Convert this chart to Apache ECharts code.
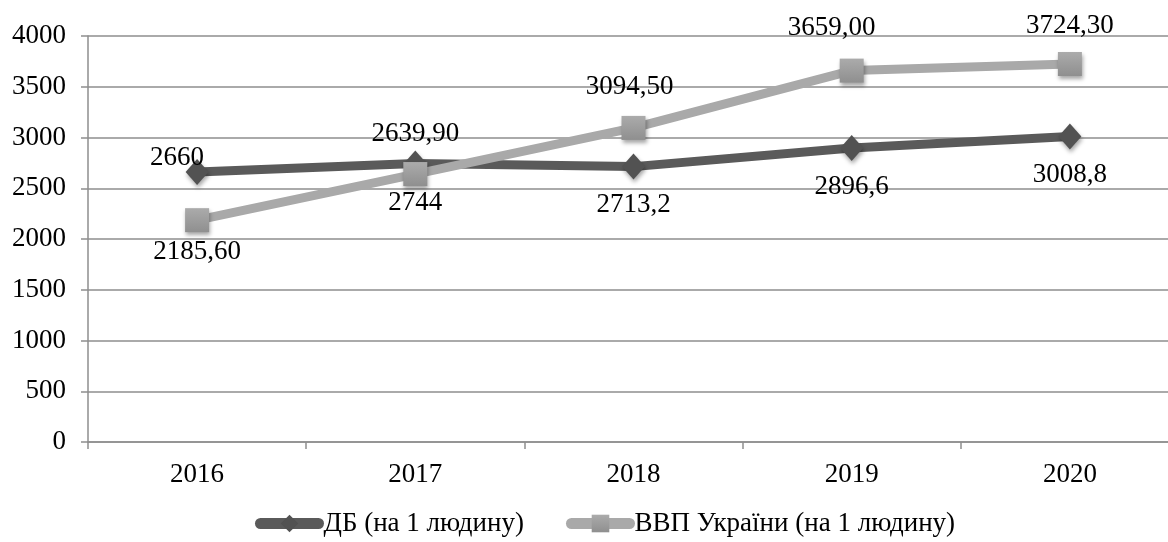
<!DOCTYPE html>
<html>
<head>
<meta charset="utf-8">
<script src="https://cdn.jsdelivr.net/npm/echarts@6/dist/echarts.min.js"></script>
<style>
  html, body { margin: 0; padding: 0; background: #fff; overflow: hidden; }
  /* plot runs slightly past the right edge of the page */
  #chart { width: 1179px; height: 542px; }
</style>
</head>
<body>
<div id="chart"></div>
<script>
// Years on the category axis
const years = ['2016', '2017', '2018', '2019', '2020'];
// Державний бюджет на 1 людину
const dbValues = [2660, 2744, 2713.2, 2896.6, 3008.8];
// ВВП України на 1 людину
const gdpValues = [2185.6, 2639.9, 3094.5, 3659.0, 3724.3];
// Value axis ticks
const yMin = 0, yMax = 4000, yStep = 500;

const seriesNames = ['ДБ (на 1 людину)', 'ВВП України (на 1 людину)'];

// label placement relative to each marker centre
const dbLabelShift = [[-20, -14], [0, 39], [0, 38], [0, 39], [0, 38]];
const gdpLabelShift = [[0, 32], [0, -40], [-4, -41], [-20, -43], [0, -38]];

const FONT = '"Liberation Serif", "Times New Roman", serif';
const FS = 27;
const GRID = '#8e8e8e';

function dbText(v) { return String(v).replace('.', ','); }
function gdpText(v) { return v.toFixed(2).replace('.', ','); }

const markerShadow = {
  shadowBlur: 4,
  shadowColor: 'rgba(0,0,0,0.35)',
  shadowOffsetX: 1,
  shadowOffsetY: 3
};

const chart = echarts.init(document.getElementById('chart'), null, { renderer: 'canvas' });

chart.setOption({
  animation: false,
  backgroundColor: '#ffffff',
  textStyle: { fontFamily: FONT, color: '#000' },
  grid: { left: 88, top: 36, right: 0, height: 406, containLabel: false },
  legend: {
    left: 255,
    top: 510,
    padding: 0,
    itemWidth: 58,
    itemHeight: 22,
    itemGap: 42,
    lineStyle: { width: 11, join: 'round', cap: 'round' },
    textStyle: { fontFamily: FONT, fontSize: FS, color: '#000' },
    data: seriesNames
  },
  xAxis: {
    type: 'category',
    data: years,
    boundaryGap: true,
    axisLine: { lineStyle: { color: GRID, width: 1.5 } },
    axisTick: { show: true, length: 7, alignWithLabel: false, lineStyle: { color: GRID, width: 1.5 } },
    axisLabel: { fontFamily: FONT, fontSize: FS, color: '#000', margin: 19 },
    splitLine: { show: false }
  },
  yAxis: {
    type: 'value',
    min: yMin,
    max: yMax,
    interval: yStep,
    axisLine: { show: true, lineStyle: { color: GRID, width: 1.5 } },
    axisTick: { show: true, length: 7, lineStyle: { color: GRID, width: 1.5 } },
    axisLabel: { fontFamily: FONT, fontSize: FS, color: '#000', margin: 22, formatter: v => String(v) },
    splitLine: { show: true, lineStyle: { color: GRID, width: 1.5 } }
  },
  series: [
    {
      name: seriesNames[0],
      type: 'line',
      data: dbValues.map((v, i) => ({
        value: v,
        label: { offset: dbLabelShift[i] }
      })),
      symbol: 'diamond',
      symbolSize: [23, 26],
      lineStyle: { color: '#5a5a5a', width: 9 },
      itemStyle: Object.assign({ color: '#525252' }, markerShadow),
      label: {
        show: true,
        position: 'inside',
        fontFamily: FONT,
        fontSize: FS,
        color: '#000',
        formatter: p => dbText(p.value)
      },
      z: 2
    },
    {
      name: seriesNames[1],
      type: 'line',
      data: gdpValues.map((v, i) => ({
        value: v,
        label: { offset: gdpLabelShift[i] }
      })),
      symbol: 'rect',
      symbolSize: 24,
      lineStyle: { color: '#a9a9a9', width: 9 },
      itemStyle: Object.assign({
        color: new echarts.graphic.LinearGradient(0, 0, 0, 1, [
          { offset: 0, color: '#ababab' },
          { offset: 1, color: '#8f8f8f' }
        ])
      }, markerShadow),
      label: {
        show: true,
        position: 'inside',
        fontFamily: FONT,
        fontSize: FS,
        color: '#000',
        formatter: p => gdpText(p.value)
      },
      z: 3
    }
  ]
});
</script>
</body>
</html>
